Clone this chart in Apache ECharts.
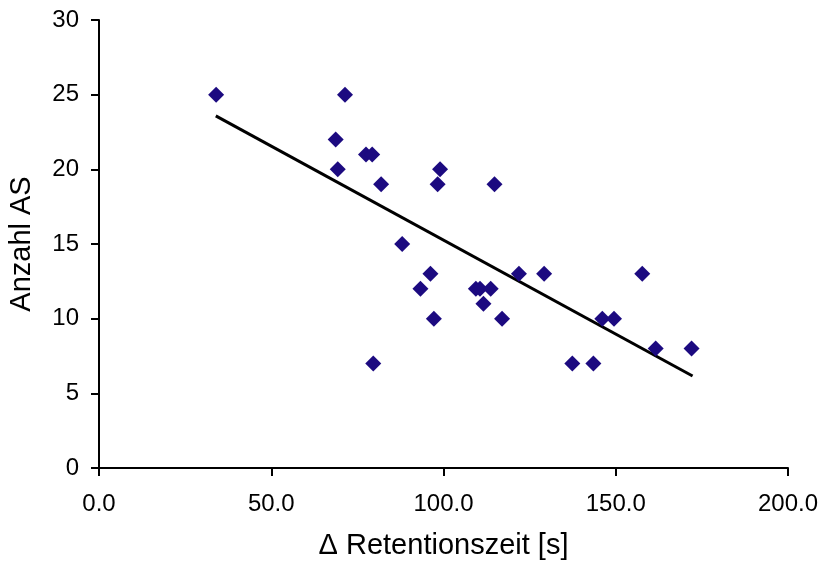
<!DOCTYPE html>
<html>
<head>
<meta charset="utf-8">
<script src="https://cdn.jsdelivr.net/npm/echarts@6/dist/echarts.min.js"></script>
<style>
    html, body { margin: 0; padding: 0; background: #fff; }
    #chart { width: 825px; height: 562px; }
</style>
</head>
<body>
<div id="chart"></div>
<script>
// Messpunkte: Delta Retentionszeit [s] / Anzahl AS
var retention = [34.0, 71.4, 68.7, 69.3, 77.5, 79.3, 81.9, 99.0, 98.3, 114.8,
                 88.0, 96.2, 93.3, 97.2, 79.6, 109.4, 110.6, 113.7, 111.6, 117.0,
                 121.9, 129.2, 157.7, 137.4, 143.5, 146.1, 149.5, 161.6, 172.0];
var anzahl    = [25, 25, 22, 20, 21, 21, 19, 20, 19, 19,
                 15, 13, 12, 10, 7, 12, 12, 12, 11, 10,
                 13, 13, 13, 7, 7, 10, 10, 8, 8];
// lineare Trendlinie (Endpunkte)
var trendX = [33.9, 172.3];
var trendY = [23.58, 6.16];

var xTicks = [0, 50, 100, 150, 200];
var yTicks = [0, 5, 10, 15, 20, 25, 30];

var chart = echarts.init(document.getElementById('chart'));
var font = 'Liberation Sans, Arial, sans-serif';
var points = retention.map(function (x, i) { return [x, anzahl[i]]; });
var trend = trendX.map(function (x, i) { return [x, trendY[i]]; });

chart.setOption({
    animation: false,
    backgroundColor: '#ffffff',
    grid: { left: 99, right: 37, top: 20, bottom: 94, outerBoundsMode: 'none' },
    xAxis: {
        type: 'value',
        min: xTicks[0],
        max: xTicks[xTicks.length - 1],
        interval: 50,
        name: '\u0394 Retentionszeit [s]',
        nameLocation: 'middle',
        nameGap: 63,
        nameTextStyle: { fontFamily: font, fontSize: 29, color: '#000' },
        axisLine: { lineStyle: { color: '#000', width: 2 } },
        axisTick: { length: 8, lineStyle: { color: '#000', width: 2 } },
        axisLabel: {
            fontFamily: font, fontSize: 24, color: '#000', margin: 24,
            formatter: function (v) { return v.toFixed(1); }
        },
        splitLine: { show: false }
    },
    yAxis: {
        type: 'value',
        min: yTicks[0],
        max: yTicks[yTicks.length - 1],
        interval: 5,
        name: 'Anzahl AS',
        nameLocation: 'middle',
        nameGap: 63,
        nameTextStyle: { fontFamily: font, fontSize: 29, color: '#000' },
        axisLine: { show: true, lineStyle: { color: '#000', width: 2 } },
        axisTick: { show: true, length: 8, lineStyle: { color: '#000', width: 2 } },
        axisLabel: { fontFamily: font, fontSize: 24, color: '#000', margin: 20 },
        splitLine: { show: false }
    },
    series: [
        {
            type: 'line',
            data: trend,
            symbol: 'none',
            lineStyle: { color: '#000', width: 3 },
            z: 1
        },
        {
            type: 'scatter',
            data: points,
            symbol: 'diamond',
            symbolSize: 16,
            itemStyle: { color: '#1c0a80', opacity: 1 },
            z: 2
        }
    ]
});
</script>
</body>
</html>
